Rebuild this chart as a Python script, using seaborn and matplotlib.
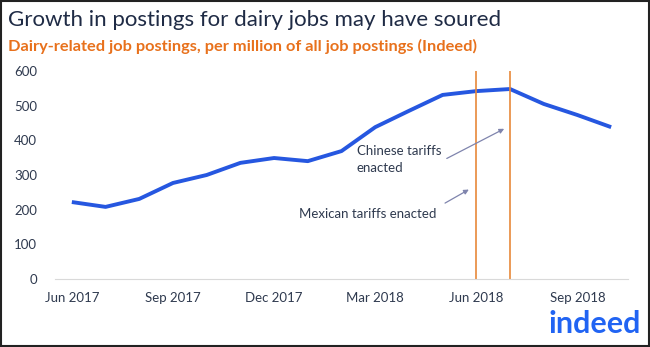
import matplotlib
matplotlib.use("Agg")
import matplotlib.pyplot as plt
import seaborn as sns
import pandas as pd
from matplotlib.patches import Rectangle

months = ["Jun 2017", "Jul 2017", "Aug 2017", "Sep 2017", "Oct 2017", "Nov 2017",
          "Dec 2017", "Jan 2018", "Feb 2018", "Mar 2018", "Apr 2018", "May 2018",
          "Jun 2018", "Jul 2018", "Aug 2018", "Sep 2018", "Oct 2018"]
postings = [222, 208, 231, 277, 300, 335, 349, 340, 369, 438, 485, 531,
            542, 548, 505, 473, 438]
tick_labels = ["Jun 2017", "Sep 2017", "Dec 2017", "Mar 2018", "Jun 2018", "Sep 2018"]
y_ticks = [0, 100, 200, 300, 400, 500, 600]
tariff_months = ["Jun 2018", "Jul 2018"]

sns.set_style("white")
plt.rcParams["font.family"] = ["Lato", "DejaVu Sans"]

df = pd.DataFrame({"idx": range(len(months)), "month": months, "value": postings})

fig = plt.figure(figsize=(6.5, 3.47), dpi=100)
ax = fig.add_axes([55/650, 1 - 279/347, (628 - 55)/650, (279 - 71)/347])

sns.lineplot(data=df, x="idx", y="value", ax=ax, color="#2657e0", linewidth=2.8,
             solid_capstyle="butt")

for m in tariff_months:
    ax.axvline(months.index(m), color="#e8893a", linewidth=1.2, ymin=0, ymax=1.0)

ax.set_xlim(-0.5, len(months) - 0.5)
ax.set_ylim(0, 600)
ax.set_yticks(y_ticks)
ax.set_yticklabels([str(v) for v in y_ticks])
ax.set_xticks([months.index(t) for t in tick_labels])
ax.set_xticklabels(tick_labels)
ax.tick_params(axis="both", length=0, labelsize=9.5, labelcolor="#2f3a4f")
ax.tick_params(axis="y", pad=13)
ax.tick_params(axis="x", pad=9)
ax.set_xlabel("")
ax.set_ylabel("")
for s in ["top", "right", "left"]:
    ax.spines[s].set_visible(False)
ax.spines["bottom"].set_color("#d9d9d9")
ax.spines["bottom"].set_linewidth(0.8)

arrow_kw = dict(arrowstyle="-|>", color="#7f84ad", lw=0.9, mutation_scale=7)
ax.annotate("Chinese tariffs\nenacted", xy=(12.9, 440), xytext=(8.45, 345),
            textcoords="data", fontsize=9.5, color="#2f3a4f", va="center", ha="left",
            linespacing=1.5)
ax.annotate("", xy=(12.9, 437), xytext=(11.05, 344), arrowprops=arrow_kw)
ax.annotate("Mexican tariffs enacted", xy=(11.9, 262), xytext=(6.75, 188),
            fontsize=9.5, color="#2f3a4f", va="center", ha="left")
ax.annotate("", xy=(11.85, 262), xytext=(11.0, 215), arrowprops=arrow_kw)

fig.text(8/650, 1 - 20/347, "Growth in postings for dairy jobs may have soured",
         fontsize=16, color="#1f2b45", va="center", ha="left")
fig.text(8/650, 1 - 46/347, "Dairy-related job postings, per million of all job postings (Indeed)",
         fontsize=11.8, color="#e8711c", fontweight="bold", va="center", ha="left")
fig.text(641/650, 1 - 324/347, "indeed", fontsize=22, color="#2164f3",
         fontweight="bold", va="center", ha="right")

fig.patches.append(Rectangle((0.002, 0.003), 0.996, 0.994, transform=fig.transFigure,
                             fill=False, edgecolor="#222222", linewidth=1.5))

fig.savefig("out.png", dpi=100, facecolor="white")
